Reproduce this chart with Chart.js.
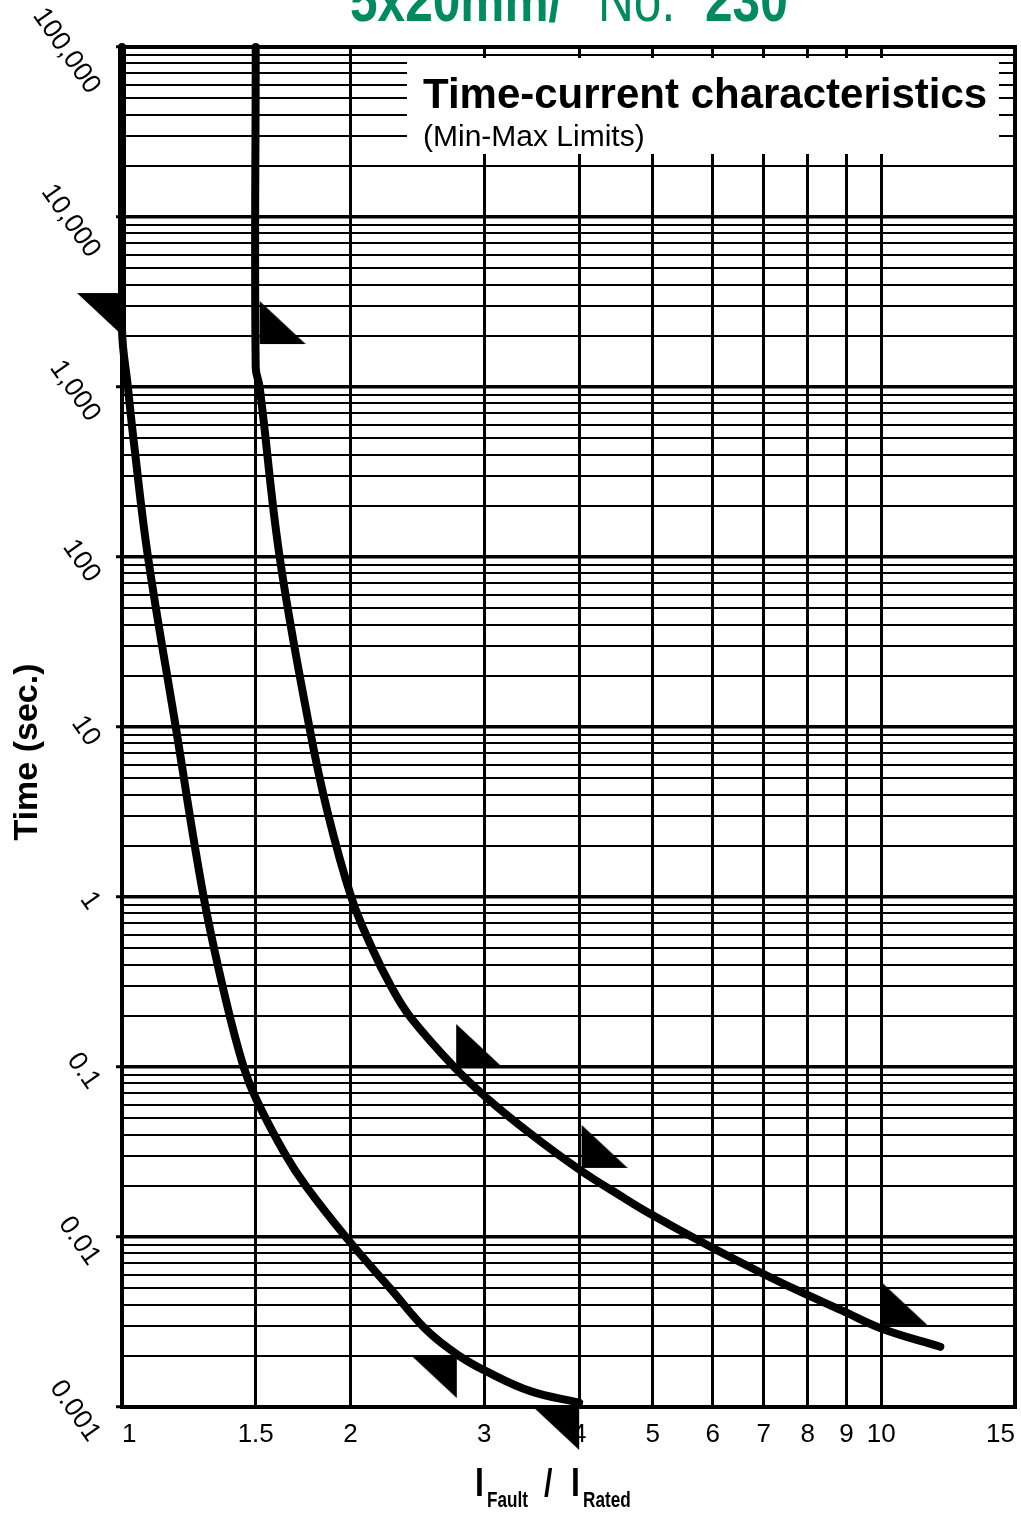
<!DOCTYPE html>
<html>
<head>
<meta charset="utf-8">
<script src="https://cdn.jsdelivr.net/npm/chart.js@4/dist/chart.umd.min.js"></script>
<style>
  html, body { margin: 0; padding: 0; background: #fff; }
  #wrap { position: relative; width: 1021px; height: 1514px; }
</style>
</head>
<body>
<div id="wrap"><canvas id="tccChart"></canvas></div>
<script>
// I fault / I rated against time (sec)
const minCurrent = [1, 1, 1.018, 1.037, 1.082, 1.177, 1.281, 1.37, 1.446, 1.504, 1.638, 1.75, 1.975, 2.263, 2.525, 2.78, 3.02, 3.45, 4.0];
const minTime = [100000, 2200, 1000, 466, 100, 10, 1, 0.248, 0.1, 0.064, 0.031, 0.0197, 0.0099, 0.0049, 0.0028, 0.002, 0.00162, 0.00124, 0.00106];
const maxCurrent = [1.5, 1.5, 1.518, 1.613, 1.765, 1.865, 2.004, 2.131, 2.263, 2.397, 2.738, 3.02, 3.44, 4.01, 4.57, 4.92, 5.89, 6.83, 7.72, 8.87, 10.0, 11.96];
const maxTime = [100000, 1300, 1000, 100, 10, 3.16, 1, 0.508, 0.296, 0.197, 0.1, 0.066, 0.041, 0.0248, 0.0171, 0.014, 0.009, 0.0064, 0.0049, 0.0037, 0.0029, 0.00226];

// the black arrow flags that sit on each curve
const minArrowCurrent = [1.003, 2.76, 4.0];
const minArrowTime = [3570, 0.00202, 0.001];
const maxArrowCurrent = [1.518, 2.755, 4.03, 10];
const maxArrowTime = [1790, 0.1, 0.0255, 0.00304];

const xTicks = [1, 1.5, 2, 3, 4, 5, 6, 7, 8, 9, 10, 15];
const xTickLabels = ['1', '1.5', '2', '3', '4', '5', '6', '7', '8', '9', '10', '15'];
const yDecades = [0.001, 0.01, 0.1, 1, 10, 100, 1000, 10000, 100000];
const yDecadeLabels = ['0.001', '0.01', '0.1', '1', '10', '100', '1,000', '10,000', '100,000'];
const yMinorSteps = [2, 3, 4, 5, 6, 7, 8, 9];

const FONT = '"Liberation Sans", Arial, Helvetica, sans-serif';

const toPoints = (xs, ys) => xs.map((x, i) => ({ x: x, y: ys[i] }));
const isDecade = v => Math.abs(Math.log10(v) - Math.round(Math.log10(v))) < 1e-9;

const yGrid = [];
yDecades.forEach((d, i) => {
  yGrid.push(d);
  if (i < yDecades.length - 1) yMinorSteps.forEach(m => yGrid.push(d * m));
});

function arrowImage(kind) {
  const w = 46, h = 43;
  const c = document.createElement('canvas');
  c.width = w * 2;
  c.height = h * 2;
  const g = c.getContext('2d');
  g.fillStyle = '#000';
  g.beginPath();
  if (kind === 'min') {
    g.moveTo(0, h); g.lineTo(w, h); g.lineTo(w, 2 * h);
  } else {
    g.moveTo(w, 0); g.lineTo(w, h); g.lineTo(2 * w, h);
  }
  g.closePath();
  g.fill();
  return c;
}

// white caption box in the top right, plus outer frame
const captionBox = {
  id: 'captionBox',
  beforeDatasetsDraw(chart) {
    const { ctx, chartArea: a } = chart;
    ctx.save();
    ctx.fillStyle = '#fff';
    ctx.fillRect(407, a.top + 11, 592, 96);
    ctx.fillStyle = '#000';
    ctx.textBaseline = 'alphabetic';
    ctx.font = 'bold 42px ' + FONT;
    ctx.fillText('Time-current characteristics', 423, a.top + 61);
    ctx.font = '30px ' + FONT;
    ctx.fillText('(Min-Max Limits)', 423, a.top + 99);
    ctx.lineWidth = 4;
    ctx.strokeStyle = '#000';
    ctx.strokeRect(a.left, a.top, a.right - a.left, a.bottom - a.top);
    ctx.restore();
  }
};

const yLabels = {
  id: 'yLabels',
  afterDraw(chart) {
    const { ctx, chartArea: a, scales: { y } } = chart;
    const ang = 55 * Math.PI / 180;
    ctx.save();
    ctx.font = '27px ' + FONT;
    ctx.fillStyle = '#000';
    ctx.textAlign = 'center';
    ctx.textBaseline = 'middle';
    yDecades.forEach((v, i) => {
      const text = yDecadeLabels[i];
      const w = ctx.measureText(text).width;
      const half = (w * Math.cos(ang) + 19 * Math.sin(ang)) / 2;
      ctx.save();
      ctx.translate(a.left - 20 - half, y.getPixelForValue(v) + 4);
      ctx.rotate(ang);
      ctx.fillText(text, 0, 0);
      ctx.restore();
    });
    ctx.restore();
  }
};

const titles = {
  id: 'titles',
  afterDraw(chart) {
    const { ctx, chartArea: a } = chart;
    ctx.save();
    ctx.textBaseline = 'alphabetic';
    // green heading, cut off by the top edge
    ctx.fillStyle = '#008a5e';
    const parts = [['bold', '5x20mm/', 350], ['normal', 'No.', 598], ['bold', '230', 705]];
    parts.forEach(p => {
      ctx.save();
      ctx.translate(p[2], 21);
      ctx.scale(0.8, 1);
      ctx.font = p[0] + ' 62px ' + FONT;
      ctx.fillText(p[1], 0, 0);
      ctx.restore();
    });
    ctx.fillStyle = '#000';
    // y axis title
    ctx.save();
    ctx.translate(28, 752);
    ctx.rotate(-Math.PI / 2);
    ctx.textAlign = 'center';
    ctx.textBaseline = 'middle';
    ctx.font = 'bold 34px ' + FONT;
    ctx.fillText('Time (sec.)', 0, 0);
    ctx.restore();
    // x axis title I_Fault / I_Rated
    const base = a.bottom + 89;
    const drawNarrow = (text, x, yy, font, sx) => {
      ctx.save();
      ctx.translate(x, yy);
      ctx.scale(sx, 1);
      ctx.font = font;
      ctx.fillText(text, 0, 0);
      ctx.restore();
    };
    drawNarrow('I', 475, base, 'bold 40px ' + FONT, 0.8);
    drawNarrow('Fault', 487, base + 11, 'bold 22px ' + FONT, 0.78);
    drawNarrow('/', 544, base, 'bold 38px ' + FONT, 0.8);
    drawNarrow('I', 571, base, 'bold 40px ' + FONT, 0.8);
    drawNarrow('Rated', 583, base + 11, 'bold 22px ' + FONT, 0.78);
    ctx.restore();
  }
};

const ctxTcc = document.getElementById('tccChart').getContext('2d');
const tccChart = new Chart(ctxTcc, {
  type: 'line',
  data: {
    datasets: [
      {
        label: 'Min',
        data: toPoints(minCurrent, minTime),
        borderColor: '#000',
        borderWidth: 8,
        borderCapStyle: 'round',
        borderJoinStyle: 'round',
        pointRadius: 0,
        tension: 0.4,
        clip: false,
      },
      {
        label: 'Max',
        data: toPoints(maxCurrent, maxTime),
        borderColor: '#000',
        borderWidth: 8,
        borderCapStyle: 'round',
        borderJoinStyle: 'round',
        pointRadius: 0,
        tension: 0.4,
        clip: false,
      },
      {
        label: 'Min arrows',
        data: toPoints(minArrowCurrent, minArrowTime),
        showLine: false,
        pointStyle: arrowImage('min'),
        pointRadius: 5,
        clip: false,
      },
      {
        label: 'Max arrows',
        data: toPoints(maxArrowCurrent, maxArrowTime),
        showLine: false,
        pointStyle: arrowImage('max'),
        pointRadius: 5,
        clip: false,
      },
    ],
  },
  options: {
    responsive: true,
    maintainAspectRatio: false,
    animation: false,
    events: [],
    layout: { padding: { top: 47, right: 4, left: 0, bottom: 0 } },
    plugins: {
      legend: { display: false },
      tooltip: { enabled: false },
    },
    scales: {
      x: {
        type: 'logarithmic',
        min: 1,
        max: 15,
        afterBuildTicks: s => { s.ticks = xTicks.map(v => ({ value: v })); },
        afterFit: s => { s.height = 107; s.paddingLeft = 0; s.paddingRight = 0; },
        border: { display: false },
        grid: { color: '#000', lineWidth: 3, drawTicks: false },
        ticks: {
          color: '#000',
          font: { size: 26, family: FONT },
          padding: 12,
          align: 'inner',
          autoSkip: false,
          maxRotation: 0,
          callback: (v, i) => xTickLabels[i],
        },
      },
      y: {
        type: 'logarithmic',
        min: 0.001,
        max: 100000,
        afterBuildTicks: s => { s.ticks = yGrid.map(v => ({ value: v })); },
        afterFit: s => { s.width = 122; },
        border: { display: false },
        grid: {
          color: '#000',
          lineWidth: c => (isDecade(c.tick.value) ? 3.5 : 2),
          tickLength: 6,
          tickColor: '#000',
          tickWidth: c => (isDecade(c.tick.value) ? 3 : 0),
        },
        ticks: { display: false },
      },
    },
  },
  plugins: [captionBox, yLabels, titles],
});
</script>
</body>
</html>
